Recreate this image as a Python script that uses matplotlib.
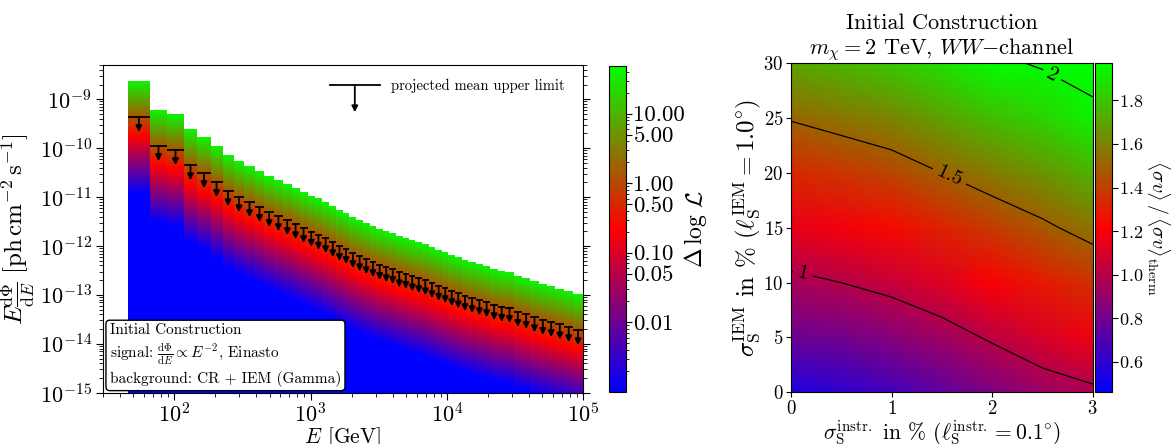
import numpy as np
import matplotlib
matplotlib.use('Agg')
import matplotlib.pyplot as plt
from matplotlib.colors import LogNorm, Normalize
from matplotlib.ticker import LogLocator, NullFormatter, FormatStrFormatter

plt.rcParams['font.family'] = 'serif'
plt.rcParams['font.serif'] = ['cmr10']
plt.rcParams['mathtext.fontset'] = 'cm'
plt.rcParams['axes.formatter.use_mathtext'] = True

# Energy bins [GeV]
energy_edges = [45.9, 65.8, 89.1, 116.9, 148, 184.5, 226, 272, 327, 388,
                459, 538, 627, 726, 830, 951, 1077, 1213, 1372, 1544,
                1720, 1931, 2166, 2426, 2713, 3036, 3401, 3796, 4238, 4731,
                5277, 5891, 6577, 7351, 8236, 9225, 10290, 11480, 12840, 14380,
                16330, 18440, 20850, 23770, 26900, 30930, 35650, 41030, 47210, 54430,
                62620, 72900, 84460, 100000]

# projected mean upper limit per bin
flux_ul = [4.35e-10, 1.11e-10, 9.2e-11, 4.5e-11, 3.1e-11, 2.04e-11, 1.33e-11, 1.0e-11, 7.9e-12, 6.3e-12,
           4.95e-12, 4.1e-12, 3.4e-12, 2.8e-12, 2.33e-12, 1.96e-12, 1.7e-12, 1.45e-12, 1.2e-12, 1.0e-12,
           8.7e-13, 7.2e-13, 6.2e-13, 5.4e-13, 4.7e-13, 4.1e-13, 3.7e-13, 3.4e-13, 2.9e-13, 2.7e-13,
           2.4e-13, 2.2e-13, 2.0e-13, 1.75e-13, 1.54e-13, 1.38e-13, 1.2e-13, 1.08e-13, 9.5e-14, 8.6e-14,
           7.8e-14, 7.1e-14, 6.2e-14, 5.7e-14, 5.4e-14, 4.5e-14, 4.1e-14, 3.5e-14, 3.1e-14, 2.8e-14,
           2.5e-14, 2.2e-14, 1.9e-14]

# upper end of the likelihood scan per bin
flux_top = [2.37e-9, 6.0e-10, 5.0e-10, 2.47e-10, 1.69e-10, 1.11e-10, 7.3e-11, 5.5e-11, 4.3e-11, 3.4e-11,
            2.7e-11, 2.24e-11, 1.85e-11, 1.54e-11, 1.27e-11, 1.07e-11, 9.6e-12, 7.9e-12, 6.6e-12, 5.45e-12,
            4.73e-12, 3.92e-12, 3.4e-12, 2.95e-12, 2.56e-12, 2.23e-12, 2.03e-12, 1.85e-12, 1.6e-12, 1.46e-12,
            1.31e-12, 1.21e-12, 1.1e-12, 9.55e-13, 8.4e-13, 7.54e-13, 6.54e-13, 5.87e-13, 5.18e-13, 4.71e-13,
            4.23e-13, 3.85e-13, 3.39e-13, 3.13e-13, 2.94e-13, 2.44e-13, 2.22e-13, 1.92e-13, 1.69e-13, 1.52e-13,
            1.34e-13, 1.22e-13, 1.04e-13]

# Right panel grid: sigma_instr [%], sigma_IEM [%], <sigma v>/<sigma v>_therm
sigma_instr = [0, 0.5, 1, 1.5, 2, 2.5, 3]
sigma_iem = [0, 5, 10, 15, 20, 25, 30]
sv_ratio = [
    [0.55, 0.60, 0.66, 0.74, 0.83, 0.92, 0.97],
    [0.78, 0.80, 0.86, 0.93, 1.02, 1.10, 1.17],
    [0.96, 1.00, 1.05, 1.12, 1.20, 1.29, 1.36],
    [1.15, 1.18, 1.24, 1.31, 1.39, 1.47, 1.56],
    [1.33, 1.37, 1.42, 1.50, 1.58, 1.65, 1.74],
    [1.51, 1.56, 1.61, 1.69, 1.77, 1.84, 1.93],
    [1.70, 1.75, 1.80, 1.88, 1.96, 2.02, 2.11],
]
contour_levels = [1.0, 1.5, 2.0]

fig = plt.figure(figsize=(11.71, 4.44), dpi=100)

# ---------------- left: likelihood per energy bin ----------------
ax1 = fig.add_axes([0.0880, 0.1155, 0.4099, 0.7380])
e_edges = np.array(energy_edges)
ul = np.array(flux_ul)
top = np.array(flux_top)
f_edges = np.logspace(-15, np.log10(5e-9), 700)
f_mid = np.sqrt(f_edges[:-1] * f_edges[1:])

# parabolic likelihood profile, Delta logL = 1.35 at the upper limit
dll = 1.35 * (f_mid[:, None] / ul[None, :]) ** 2
dll = np.ma.masked_where(f_mid[:, None] > top[None, :], dll)
mesh1 = ax1.pcolormesh(e_edges, f_edges, dll, cmap='brg', norm=LogNorm(1e-3, 49),
                       shading='flat', edgecolors='none', antialiased=False, rasterized=True)

e_lo, e_hi = e_edges[:-1], e_edges[1:]
e_c = np.sqrt(e_lo * e_hi)
ax1.hlines(ul, e_lo, e_hi, color='k', lw=1.3)
for x, y in zip(e_c, ul):
    ax1.annotate('', xy=(x, y * 0.49), xytext=(x, y),
                 arrowprops=dict(arrowstyle='-|>', color='k', lw=1.3, mutation_scale=9,
                                 shrinkA=0, shrinkB=0))

# legend entry drawn by hand
ax1.plot([0.473, 0.576], [0.939, 0.939], color='k', lw=1.3, transform=ax1.transAxes)
ax1.annotate('', xy=(0.5245, 0.856), xytext=(0.5245, 0.939), xycoords='axes fraction',
             arrowprops=dict(arrowstyle='-|>', color='k', lw=1.3, mutation_scale=9,
                             shrinkA=0, shrinkB=0))
ax1.text(0.600, 0.936, 'projected mean upper limit', transform=ax1.transAxes,
         fontsize=10.5, va='center', ha='left')

ax1.text(0.014, 0.018,
         'Initial Construction\n'
         r'signal: $\frac{\mathrm{d}\Phi}{\mathrm{d}E}\propto E^{-2}$, Einasto' '\n'
         'background: CR + IEM (Gamma)',
         transform=ax1.transAxes, fontsize=11, va='bottom', ha='left', linespacing=1.3,
         bbox=dict(boxstyle='round,pad=0.25', fc='white', ec='k', lw=1))

ax1.set_xscale('log')
ax1.set_yscale('log')
ax1.set_xlim(30, 1e5)
ax1.set_ylim(1e-15, 5e-9)
ax1.yaxis.set_major_locator(LogLocator(base=10, numticks=20))
ax1.yaxis.set_minor_locator(LogLocator(base=10, subs=np.arange(2, 10), numticks=20))
ax1.yaxis.set_minor_formatter(NullFormatter())
ax1.tick_params(which='both', direction='out', right=True, labelsize=16, pad=3)
ax1.tick_params(axis='x', pad=2)
ax1.tick_params(which='major', length=5)
ax1.tick_params(which='minor', length=3)
ax1.set_xlabel(r'$E$ [GeV]', fontsize=15.5, labelpad=-1)
ax1.set_ylabel(r'$E\frac{\mathrm{d}\Phi}{\mathrm{d}E}\ [\mathrm{ph\,cm^{-2}\,s^{-1}}]$', fontsize=18,
               labelpad=2)

cax1 = fig.add_axes([0.5201, 0.1178, 0.0143, 0.7342])
cb1 = fig.colorbar(mesh1, cax=cax1, ticks=[0.01, 0.05, 0.1, 0.5, 1, 5, 10],
                   format=FormatStrFormatter('%.2f'))
cb1.ax.yaxis.set_minor_locator(LogLocator(base=10, subs=np.arange(2, 10), numticks=20))
cb1.ax.yaxis.set_minor_formatter(NullFormatter())
cb1.ax.tick_params(which='major', labelsize=16.5, pad=1.5, length=4)
cb1.ax.tick_params(which='minor', length=2.5)
cb1.set_label(r'$\Delta\,\log\,\mathcal{L}$', fontsize=17, labelpad=-2)

# ---------------- right: cross section ratio map ----------------
ax2 = fig.add_axes([0.6755, 0.1164, 0.2576, 0.7410])
mesh2 = ax2.pcolormesh(sigma_instr, sigma_iem, sv_ratio, shading='gouraud', cmap='brg',
                       norm=Normalize(0.46, 1.97), rasterized=True)
cs = ax2.contour(sigma_instr, sigma_iem, sv_ratio, levels=contour_levels, colors='k', linewidths=0.9)
ax2.clabel(cs, fmt={1.0: '1', 1.5: '1.5', 2.0: '2'}, fontsize=15, inline=True,
           manual=[(0.12, 10.9), (1.6, 20.2), (2.6, 29.0)])
ax2.set_xlim(0, 3)
ax2.set_ylim(0, 30)
ax2.set_xticks([0, 1, 2, 3])
ax2.set_yticks([0, 5, 10, 15, 20, 25, 30])
ax2.tick_params(direction='out', labelsize=13.5, pad=2)
ax2.set_xlabel(r'$\sigma_{\rm S}^{\rm instr.}$ in % ($\ell_{\rm S}^{\rm instr.} = 0.1^{\circ}$)',
               fontsize=15.5, labelpad=0)
ax2.set_ylabel(r'$\sigma_{\rm S}^{\rm IEM}$ in % ($\ell_{\rm S}^{\rm IEM} = 1.0^{\circ}$)',
               fontsize=18, labelpad=0)
ax2.set_title('Initial Construction\n' r'$m_\chi = 2$ TeV, $WW{-}$channel', fontsize=16)

cax2 = fig.add_axes([0.9353, 0.1164, 0.0140, 0.7410])
cb2 = fig.colorbar(mesh2, cax=cax2, ticks=[0.6, 0.8, 1.0, 1.2, 1.4, 1.6, 1.8])
cb2.ax.tick_params(labelsize=13, pad=1.5, length=4)
cb2.set_label(r'$\langle\sigma v\rangle\,/\,\langle\sigma v\rangle_{\rm therm}$',
              fontsize=14.5, rotation=270, va='bottom', labelpad=0)

fig.savefig('out.png', dpi=100)
